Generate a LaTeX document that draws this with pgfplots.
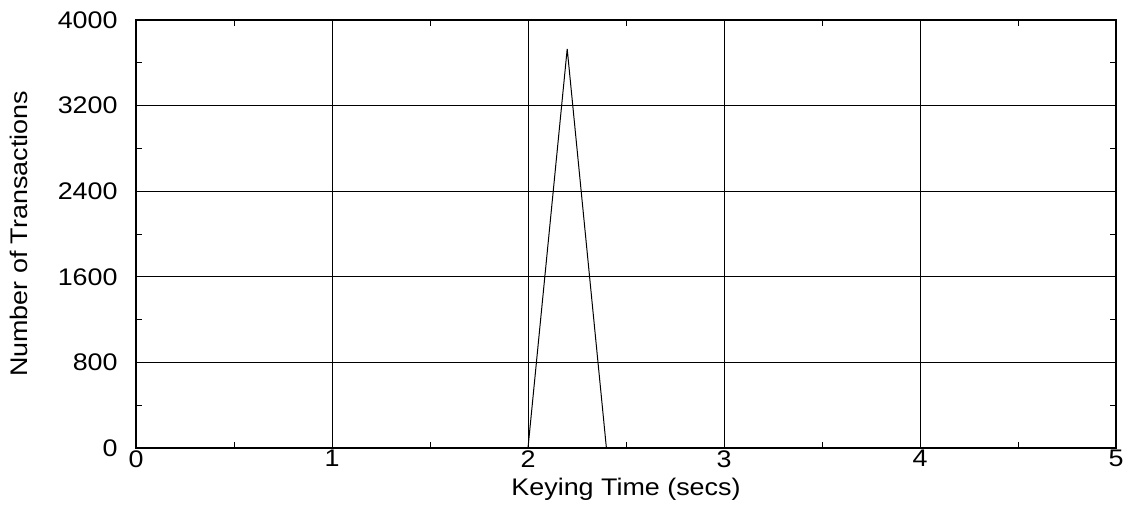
\documentclass[border=0pt]{standalone}
\usepackage{pgfplots}
\pgfplotsset{compat=1.18}
\usepackage{fontspec}
\setmainfont[FakeStretch=1.12]{Liberation Sans}
\begin{document}
\fontsize{12}{14}\selectfont
\begin{tikzpicture}
\useasboundingbox (-68pt,-28pt) rectangle (496pt,224pt);
\begin{axis}[
  at={(0pt,0pt)}, anchor=south west,
  scale only axis, width=490pt, height=214pt,
  xmin=0, xmax=5, ymin=0, ymax=4000,
  xtick={0,1,2,3,4,5}, ytick={0,800,1600,2400,3200,4000},
  minor xtick={0.5,1.5,2.5,3.5,4.5},
  minor ytick={400,1200,2000,2800,3600},
  tick align=inside,
  major tick length=0pt, minor tick length=3pt,
  xmajorgrids, ymajorgrids,
  grid style={black, line width=0.5pt},
  minor grid style={draw=none},
  axis line style={black, line width=0.8pt},
  every tick/.style={black, line width=0.5pt},
  /pgf/number format/assume math mode=true,
  /pgf/number format/1000 sep={},
  xticklabel style={font=\fontsize{12}{14}\selectfont, yshift=3pt},
  yticklabel style={font=\fontsize{12}{14}\selectfont, xshift=-5pt},
  xlabel={Keying Time (secs)},
  ylabel={Number of Transactions},
  xlabel style={font=\fontsize{12}{14}\selectfont, yshift=3pt},
  ylabel style={font=\fontsize{12}{14}\selectfont, yshift=7pt},
]
\addplot[black, line width=0.5pt] coordinates {(0,0) (2,0) (2.2,3730) (2.4,0) (5,0)};
\end{axis}
\end{tikzpicture}
\end{document}
